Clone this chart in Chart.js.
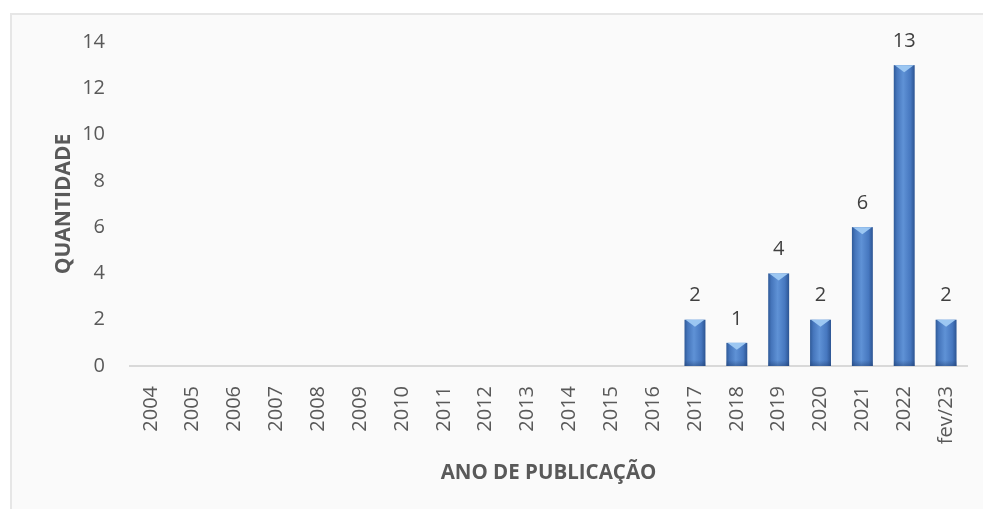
<!DOCTYPE html>
<html>
<head>
<meta charset="utf-8">
<script src="https://cdn.jsdelivr.net/npm/chart.js@4.4.0/dist/chart.umd.min.js"></script>
<style>
  html, body { margin: 0; padding: 0; background: #ffffff; }
  #moldura {
    position: absolute; left: 10px; top: 13px; width: 990px; height: 510px;
    background: #fafafa; border: 2px solid #e6e6e6; box-sizing: border-box;
  }
  #wrap { position: absolute; left: 0; top: 0; width: 983px; height: 509px; }
</style>
</head>
<body>
<div id="moldura"></div>
<div id="wrap"><canvas id="grafico"></canvas></div>
<script>
// Dados
const anos = ['2004', '2005', '2006', '2007', '2008', '2009', '2010', '2011', '2012', '2013',
              '2014', '2015', '2016', '2017', '2018', '2019', '2020', '2021', '2022', 'fev/23'];
const quantidades = [0, 0, 0, 0, 0, 0, 0, 0, 0, 0, 0, 0, 0, 2, 1, 4, 2, 6, 13, 2];
const ticksY = [0, 2, 4, 6, 8, 10, 12, 14];

const fonte = '"Open Sans", sans-serif';

// Barras com efeito de bisel (gradiente + triângulo no topo)
const biselBarras = {
    id: 'biselBarras',
    afterDatasetsDraw(chart) {
        const ctx = chart.ctx;
        const meta = chart.getDatasetMeta(0);
        meta.data.forEach((bar, i) => {
            if (!quantidades[i]) return;
            const w = bar.width;
            const x0 = bar.x - w / 2;
            const top = bar.y;
            const base = bar.base;
            ctx.save();
            const g = ctx.createLinearGradient(x0, 0, x0 + w, 0);
            g.addColorStop(0, '#2f5a98');
            g.addColorStop(0.15, '#4575bb');
            g.addColorStop(0.45, '#5f92d6');
            g.addColorStop(0.8, '#4677bf');
            g.addColorStop(1, '#2c5492');
            ctx.fillStyle = g;
            ctx.fillRect(x0, top, w, base - top);
            // escurecer a base
            const gv = ctx.createLinearGradient(0, base - 6, 0, base);
            gv.addColorStop(0, 'rgba(30,60,110,0)');
            gv.addColorStop(1, 'rgba(30,60,110,0.45)');
            ctx.fillStyle = gv;
            ctx.fillRect(x0, base - 6, w, 6);
            // triângulo claro no topo
            const h = Math.min(7, (base - top) / 2);
            ctx.beginPath();
            ctx.moveTo(x0 + 1, top);
            ctx.lineTo(x0 + w - 1, top);
            ctx.lineTo(bar.x, top + h);
            ctx.closePath();
            ctx.fillStyle = '#9cc7f2';
            ctx.fill();
            ctx.restore();
        });
    }
};

// Rótulos de valor acima das barras
const rotulosValor = {
    id: 'rotulosValor',
    afterDatasetsDraw(chart) {
        const ctx = chart.ctx;
        const meta = chart.getDatasetMeta(0);
        ctx.save();
        ctx.font = '20px ' + fonte;
        ctx.fillStyle = '#404040';
        ctx.textAlign = 'center';
        ctx.textBaseline = 'middle';
        meta.data.forEach((bar, i) => {
            if (!quantidades[i]) return;
            ctx.fillText(String(quantidades[i]), bar.x, bar.y - 24);
        });
        ctx.restore();
    }
};

new Chart(document.getElementById('grafico'), {
    type: 'bar',
    data: {
        labels: anos,
        datasets: [{
            label: 'Quantidade',
            data: quantidades,
            backgroundColor: 'rgba(0,0,0,0)',
            barPercentage: 0.5,
            categoryPercentage: 1
        }]
    },
    options: {
        responsive: true,
        maintainAspectRatio: false,
        animation: false,
        layout: { padding: { top: 42, right: 16, left: 51, bottom: 24 } },
        plugins: {
            legend: { display: false },
            tooltip: { enabled: false }
        },
        scales: {
            y: {
                min: 0,
                max: 14,
                afterBuildTicks: (axis) => { axis.ticks = ticksY.map(v => ({ value: v })); },
                grid: { display: false },
                border: { display: false },
                ticks: { color: '#595959', font: { family: fonte, size: 20 }, padding: 17 },
                title: {
                    display: true, text: 'QUANTIDADE', color: '#595959',
                    font: { family: fonte, size: 21, weight: 'bold' }, padding: 0
                },
                afterFit: (axis) => { axis.width = 79; }
            },
            x: {
                grid: { display: false },
                border: { display: true, color: '#d9d9d9', width: 2 },
                ticks: {
                    color: '#595959', font: { family: fonte, size: 20 },
                    minRotation: 90, maxRotation: 90, padding: 12, autoSkip: false
                },
                title: {
                    display: true, text: 'ANO DE PUBLICAÇÃO', color: '#595959',
                    font: { family: fonte, size: 20.5, weight: 'bold' }, padding: 0
                },
                afterFit: (axis) => { axis.height = 119; }
            }
        }
    },
    plugins: [biselBarras, rotulosValor]
});
</script>
</body>
</html>
